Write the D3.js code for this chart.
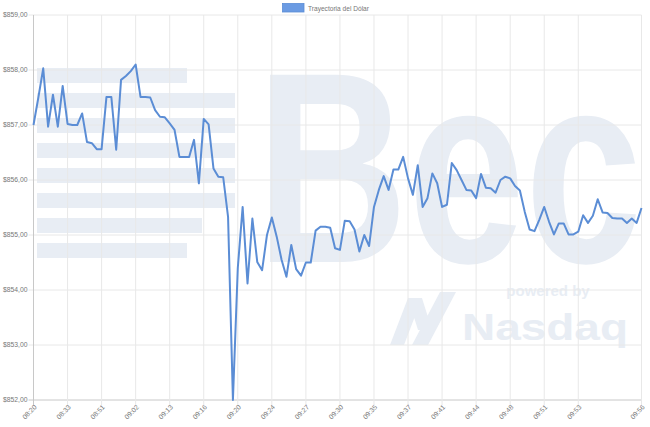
<!DOCTYPE html>
<html>
<head>
<meta charset="utf-8">
<script src="https://cdn.jsdelivr.net/npm/d3@7"></script>
<style>
  body { margin: 0; background: #fff; }
  svg { display: block; font-family: "Liberation Sans", Arial, sans-serif; }
</style>
</head>
<body>
<svg id="chart" width="650" height="427"></svg>
<script>
// Precio del dólar, un punto por cotización
var prices = [
  857.00, 857.50, 858.03, 856.97, 857.55, 856.97, 857.71, 857.02, 857.00, 857.00,
  857.21, 856.69, 856.67, 856.56, 856.56, 857.51, 857.51, 856.55, 857.82, 857.89,
  857.98, 858.10, 857.51, 857.51, 857.50, 857.27, 857.15, 857.14, 857.03, 856.91,
  856.42, 856.42, 856.42, 856.73, 855.94, 857.11, 857.01, 856.21, 856.06, 856.05,
  855.33, 852.00, 854.40, 855.51, 854.12, 855.30, 854.51, 854.36, 855.00, 855.32,
  854.97, 854.55, 854.24, 854.82, 854.38, 854.26, 854.50, 854.50, 855.08, 855.15,
  855.15, 855.13, 854.76, 854.73, 855.26, 855.25, 855.10, 854.70, 855.00, 854.80,
  855.51, 855.82, 856.07, 855.82, 856.19, 856.19, 856.42, 856.03, 855.73, 856.27,
  855.51, 855.67, 856.12, 855.94, 855.51, 855.55, 856.31, 856.18, 856.00, 855.82,
  855.81, 855.67, 856.11, 855.86, 855.85, 855.77, 856.00, 856.06, 856.03, 855.89,
  855.81, 855.42, 855.10, 855.07, 855.28, 855.51, 855.24, 855.01, 855.21, 855.21,
  855.01, 855.01, 855.06, 855.36, 855.22, 855.35, 855.65, 855.41, 855.40, 855.31,
  855.30, 855.30, 855.22, 855.30, 855.22, 855.49
];

// Etiquetas visibles del eje X y su posición en la serie
var tickIndex = [0, 7, 14, 21, 28, 35, 42, 49, 56, 63, 70, 77, 84, 91, 98, 105, 112, 125];
var tickLabels = ["08:20", "08:33", "08:51", "09:02", "09:13", "09:16", "09:20", "09:24", "09:27",
                  "09:30", "09:35", "09:37", "09:41", "09:44", "09:48", "09:51", "09:53", "09:56"];

var yTicks = [852, 853, 854, 855, 856, 857, 858, 859];
var seriesName = "Trayectoria del Dólar";

var svg = d3.select("#chart");
var plotLeft = 33.5, plotRight = 641.5, plotTop = 15, plotBottom = 400;

var x = d3.scaleLinear().domain([0, prices.length - 1]).range([plotLeft, plotRight]);
var y = d3.scaleLinear().domain([852, 859]).range([plotBottom, plotTop]);

// Marca de agua de fondo
var wm = svg.append("g").attr("fill", "#e8edf4");
wm.selectAll("rect.stripe")
  .data(d3.range(8))
  .enter().append("rect")
    .attr("class", "stripe")
    .attr("x", 37)
    .attr("y", d => 68 + d * 25)
    .attr("width", d => [150, 198, 198, 198, 198, 198, 165, 150][d])
    .attr("height", 15);
wm.append("text")
  .attr("x", 256).attr("y", 262)
  .attr("font-size", 272).attr("font-weight", "bold")
  .attr("textLength", 386).attr("lengthAdjust", "spacingAndGlyphs")
  .text("Bec");
wm.append("text")
  .attr("x", 548).attr("y", 296)
  .attr("text-anchor", "middle")
  .attr("font-size", 15).attr("font-weight", "bold")
  .text("powered by");
wm.append("text")
  .attr("x", 462).attr("y", 340)
  .attr("font-size", 36).attr("font-weight", "bold")
  .attr("textLength", 166).attr("lengthAdjust", "spacingAndGlyphs")
  .text("Nasdaq");
wm.append("path")
  .attr("d", "M390,345 L408,298 L422,298 L404,345 Z M412,345 L440,292 L456,292 L428,345 Z M408,298 L422,298 L432,330 L418,330 Z");

// Rejilla horizontal
svg.append("g")
  .selectAll("line")
  .data(yTicks)
  .enter().append("line")
    .attr("x1", plotLeft - 5).attr("x2", plotRight)
    .attr("y1", d => y(d)).attr("y2", d => y(d))
    .attr("stroke", d => d === 852 ? "#c8c8c8" : "#e8e8e8")
    .attr("stroke-width", 1);

// Rejilla vertical
svg.append("g")
  .selectAll("line")
  .data(tickIndex)
  .enter().append("line")
    .attr("x1", d => x(d)).attr("x2", d => x(d))
    .attr("y1", plotTop).attr("y2", plotBottom + 5)
    .attr("stroke", (d, i) => i === 0 ? "#c8c8c8" : "#e8e8e8")
    .attr("stroke-width", 1);

// Etiquetas eje Y
svg.append("g")
  .selectAll("text")
  .data(yTicks)
  .enter().append("text")
    .attr("x", plotLeft - 6)
    .attr("y", d => y(d))
    .attr("dy", "0.35em")
    .attr("text-anchor", "end")
    .attr("font-size", 6.8)
    .attr("fill", "#777")
    .text(d => "$" + d.toFixed(2).replace(".", ","));

// Etiquetas eje X
svg.append("g")
  .selectAll("text")
  .data(tickIndex)
  .enter().append("text")
    .attr("transform", d => "translate(" + (x(d) + 2) + "," + (plotBottom + 6) + ") rotate(-45)")
    .attr("dy", "0.35em")
    .attr("text-anchor", "end")
    .attr("font-size", 6.8)
    .attr("fill", "#777")
    .text((d, i) => tickLabels[i]);

// Línea del dólar
var line = d3.line()
  .x((d, i) => x(i))
  .y(d => y(d));

svg.append("path")
  .datum(prices)
  .attr("d", line)
  .attr("fill", "none")
  .attr("stroke", "#5b8dd5")
  .attr("stroke-width", 2)
  .attr("stroke-linejoin", "round");

// Leyenda
svg.append("rect")
  .attr("x", 282.5).attr("y", 3.5)
  .attr("width", 21.5).attr("height", 8.5)
  .attr("fill", "#6b9be3")
  .attr("stroke", "#5b8dd5")
  .attr("stroke-width", 0.8);
svg.append("text")
  .attr("x", 308).attr("y", 10.5)
  .attr("font-size", 6.6)
  .attr("fill", "#777")
  .text(seriesName);
</script>
</body>
</html>
